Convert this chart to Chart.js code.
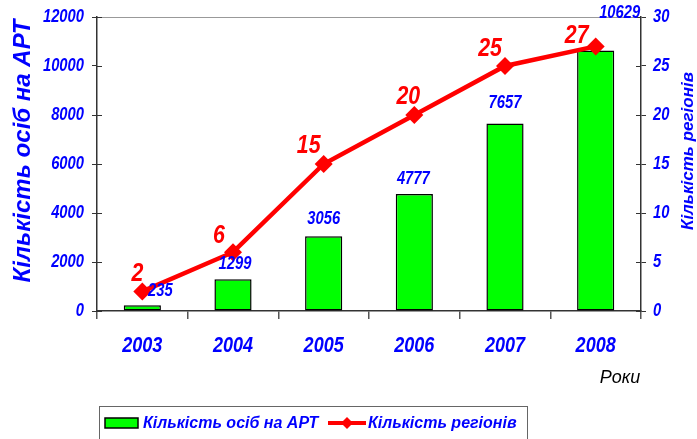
<!DOCTYPE html>
<html>
<head>
<meta charset="utf-8">
<script src="https://cdn.jsdelivr.net/npm/chart.js@4.4.1/dist/chart.umd.min.js"></script>
<style>
  body { margin: 0; background: #fff; }
  canvas { display: block; }
</style>
</head>
<body>
<canvas id="myChart" width="697" height="439"></canvas>
<script>
// дані
const years = ['2003', '2004', '2005', '2006', '2007', '2008'];
const artPeople = [235, 1299, 3056, 4777, 7657, 10629];
const regions = [2, 6, 15, 20, 25, 27];
const leftTicks = [0, 2000, 4000, 6000, 8000, 10000, 12000];
const rightTicks = [0, 5, 10, 15, 20, 25, 30];

// зсуви підписів відносно точки / верху стовпця
const barLabelShift = [[18, -14], [2, -15], [0, -17], [-1, -15], [0, -20], [24, -38]];
const lineLabelShift = [[-5, -18], [-14, -16], [-15, -18], [-6, -18], [-15, -17], [-19, -11]];

const fam = '"Liberation Sans", Arial, sans-serif';
const blue = '#0000ff';
const red = '#ff0000';
const green = '#00ff00';

// вузький шрифт імітуємо стисканням по горизонталі
function narrowText(c, text, x, y, align) {
    c.save();
    c.translate(x, y);
    c.scale(0.82, 1);
    c.textAlign = align || 'center';
    c.textBaseline = 'middle';
    c.fillText(text, 0, 0);
    c.restore();
}

const extras = {
    id: 'extras',
    afterDraw(chart) {
        const c = chart.ctx;
        const area = chart.chartArea;
        const xs = chart.scales.x;
        const yl = chart.scales.y;
        const yr = chart.scales.y1;
        c.save();

        // верхня рамка
        c.strokeStyle = '#999';
        c.lineWidth = 1;
        c.beginPath();
        c.moveTo(area.left, area.top + 0.5);
        c.lineTo(area.right, area.top + 0.5);
        c.stroke();

        // внутрішні засічки осей
        c.strokeStyle = '#333';
        c.lineWidth = 1;
        leftTicks.forEach(v => {
            const y = Math.round(yl.getPixelForValue(v)) + 0.5;
            c.beginPath(); c.moveTo(area.left, y); c.lineTo(area.left + 5, y); c.stroke();
        });
        rightTicks.forEach(v => {
            const y = Math.round(yr.getPixelForValue(v)) + 0.5;
            c.beginPath(); c.moveTo(area.right - 5, y); c.lineTo(area.right, y); c.stroke();
        });

        // підписи осей
        c.fillStyle = blue;
        c.font = 'italic bold 18px ' + fam;
        leftTicks.forEach(v => narrowText(c, String(v), area.left - 13, yl.getPixelForValue(v), 'right'));
        rightTicks.forEach(v => narrowText(c, String(v), area.right + 12, yr.getPixelForValue(v), 'left'));
        c.font = 'italic bold 22px ' + fam;
        years.forEach((y, i) => narrowText(c, y, xs.getPixelForValue(i), area.bottom + 35));

        // підписи стовпців
        const barMeta = chart.getDatasetMeta(1);
        c.font = 'italic bold 18px ' + fam;
        barMeta.data.forEach((bar, i) => {
            narrowText(c, String(artPeople[i]), bar.x + barLabelShift[i][0], bar.y + barLabelShift[i][1]);
        });

        // підписи лінії
        const lineMeta = chart.getDatasetMeta(0);
        c.fillStyle = red;
        c.font = 'italic bold 26px ' + fam;
        lineMeta.data.forEach((pt, i) => {
            narrowText(c, String(regions[i]), pt.x + lineLabelShift[i][0], pt.y + lineLabelShift[i][1]);
        });

        // назви осей
        c.fillStyle = blue;
        c.textAlign = 'center';
        c.textBaseline = 'middle';
        c.font = 'italic bold 24px ' + fam;
        c.save();
        c.translate(23, 151);
        c.rotate(-Math.PI / 2);
        c.fillText('Кількість осіб на АРТ', 0, 0);
        c.restore();

        c.font = 'italic bold 17px ' + fam;
        c.save();
        c.translate(688, 151);
        c.rotate(-Math.PI / 2);
        c.fillText('Кількість регіонів', 0, 0);
        c.restore();

        c.fillStyle = '#000';
        c.font = 'italic 18px ' + fam;
        c.fillText('Роки', 620, 378);

        // легенда
        c.strokeStyle = '#666';
        c.lineWidth = 1;
        c.strokeRect(99.5, 406.5, 428, 40);
        c.fillStyle = green;
        c.fillRect(105, 418, 33, 10);
        c.strokeStyle = '#000';
        c.lineWidth = 1.5;
        c.strokeRect(105, 418, 33, 10);
        c.fillStyle = blue;
        c.font = 'italic bold 16px ' + fam;
        c.textAlign = 'left';
        c.fillText('Кількість осіб на АРТ', 143, 424);
        c.strokeStyle = red;
        c.lineWidth = 4;
        c.beginPath(); c.moveTo(328, 423); c.lineTo(366, 423); c.stroke();
        c.fillStyle = red;
        c.beginPath();
        c.moveTo(347, 417); c.lineTo(353, 423); c.lineTo(347, 429); c.lineTo(341, 423);
        c.closePath(); c.fill();
        c.fillStyle = blue;
        c.fillText('Кількість регіонів', 368, 424);

        c.restore();
    }
};

const ctx = document.getElementById('myChart');
const chart = new Chart(ctx, {
    data: {
        labels: years,
        datasets: [{
            type: 'line',
            label: 'Кількість регіонів',
            data: regions,
            yAxisID: 'y1',
            borderColor: red,
            backgroundColor: red,
            borderWidth: 4.5,
            pointStyle: 'rectRot',
            pointRadius: 9,
            pointBorderWidth: 0,
            tension: 0,
            order: 1
        }, {
            type: 'bar',
            label: 'Кількість осіб на АРТ',
            data: artPeople,
            yAxisID: 'y',
            backgroundColor: green,
            borderColor: '#000',
            borderWidth: 1.5,
            borderSkipped: false,
            barPercentage: 0.41,
            categoryPercentage: 1,
            order: 2
        }]
    },
    options: {
        responsive: false,
        devicePixelRatio: 1,
        animation: false,
        layout: { padding: { top: 17, left: 0, right: 0, bottom: 0 } },
        plugins: {
            legend: { display: false },
            tooltip: { enabled: false }
        },
        scales: {
            x: {
                offset: true,
                grid: { offset: true, drawOnChartArea: false, tickLength: 8, color: '#555', lineWidth: 1.5 },
                border: { color: '#333', width: 1.5 },
                ticks: { display: false },
                afterFit(s) { s.height = 128; }
            },
            y: {
                position: 'left',
                min: 0,
                max: 12000,
                afterBuildTicks(s) { s.ticks = leftTicks.map(v => ({ value: v })); },
                grid: { drawOnChartArea: false, tickLength: 5, color: '#333' },
                border: { color: '#333', width: 1.5 },
                ticks: { display: false },
                afterFit(s) { s.width = 97; }
            },
            y1: {
                position: 'right',
                min: 0,
                max: 30,
                afterBuildTicks(s) { s.ticks = rightTicks.map(v => ({ value: v })); },
                grid: { drawOnChartArea: false, tickLength: 5, color: '#333' },
                border: { color: '#333', width: 1.5 },
                ticks: { display: false },
                afterFit(s) { s.width = 56; }
            }
        }
    },
    plugins: [extras]
});
</script>
</body>
</html>
